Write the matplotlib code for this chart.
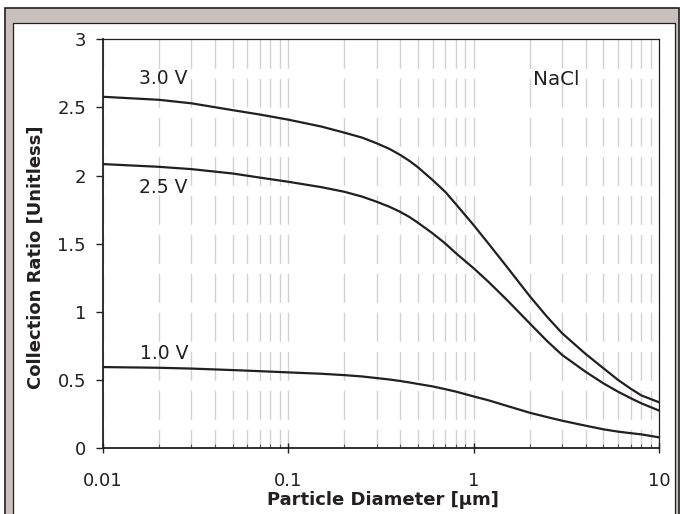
import matplotlib
matplotlib.use("Agg")
import matplotlib.pyplot as plt
from matplotlib.patches import Rectangle
from matplotlib.ticker import LogLocator, NullFormatter

plt.rcParams['font.family'] = ['DejaVu Sans']
plt.rcParams['lines.scale_dashes'] = False

# ---- data ----
diameter = [0.01, 0.02, 0.03, 0.05, 0.07, 0.1, 0.15, 0.2, 0.25, 0.3, 0.35, 0.4, 0.45,
            0.5, 0.6, 0.7, 0.8, 1.0, 1.2, 1.5, 2, 2.5, 3, 4, 5, 6, 7, 8, 10]
ratio_30V = [2.578, 2.556, 2.530, 2.480, 2.448, 2.410, 2.360, 2.315, 2.278, 2.236,
             2.196, 2.152, 2.107, 2.060, 1.966, 1.881, 1.790, 1.634, 1.500, 1.333,
             1.115, 0.958, 0.841, 0.691, 0.585, 0.499, 0.436, 0.386, 0.335]
ratio_25V = [2.084, 2.064, 2.047, 2.015, 1.985, 1.954, 1.915, 1.881, 1.845, 1.807,
             1.771, 1.734, 1.695, 1.653, 1.575, 1.502, 1.430, 1.318, 1.219, 1.090,
             0.915, 0.781, 0.682, 0.560, 0.474, 0.413, 0.366, 0.328, 0.274]
ratio_10V = [0.594, 0.589, 0.583, 0.572, 0.564, 0.555, 0.545, 0.535, 0.525, 0.513,
             0.503, 0.492, 0.481, 0.470, 0.452, 0.432, 0.414, 0.378, 0.350, 0.310,
             0.259, 0.226, 0.200, 0.164, 0.137, 0.120, 0.109, 0.100, 0.078]
series_labels = ["3.0 V", "2.5 V", "1.0 V"]
xticks = [0.01, 0.1, 1, 10]
xticklabels = ["0.01", "0.1", "1", "10"]
yticks = [0, 0.5, 1, 1.5, 2, 2.5, 3]
yticklabels = ["0", "0.5", "1", "1.5", "2", "2.5", "3"]

W, H = 680, 514
fig = plt.figure(figsize=(W / 100, H / 100), dpi=100)
fig.patch.set_facecolor('white')

dark = '#231f20'

def fx(px):
    return px / W

def fy(py):
    return 1 - py / H

# outer gray frame
fig.patches.append(Rectangle((fx(5), fy(530)), fx(678.5) - fx(5), fy(7.5) - fy(530),
                             transform=fig.transFigure, facecolor='#c9c0bd',
                             edgecolor=dark, linewidth=1.2, zorder=-10))
# inner white panel
fig.patches.append(Rectangle((fx(12.5), fy(530)), fx(675) - fx(12.5), fy(23) - fy(530),
                             transform=fig.transFigure, facecolor='white',
                             edgecolor=dark, linewidth=0.9, zorder=-9))

left, right, top, bottom = 103, 659.3, 39.3, 448
ax = fig.add_axes([fx(left), fy(bottom), fx(right) - fx(left), fy(top) - fy(bottom)])
ax.set_zorder(5)
ax.set_facecolor('none')

ax.set_xscale('log')
ax.set_xlim(0.01, 10)
ax.set_ylim(0, 3)

for vals in (ratio_30V, ratio_25V, ratio_10V):
    ax.plot(diameter, vals, color=dark, linewidth=1.6, solid_capstyle='butt',
            solid_joinstyle='round', zorder=3)

# grid: vertical dashed lines at each major/minor decade position
axis_h_px = bottom - top
on_px, off_px = 29.0, 10.0
per = on_px + off_px
offset_px = (on_px - (axis_h_px % per)) % per
pt = 72 / 100
dash = (offset_px * pt, (on_px * pt, off_px * pt))
ax.xaxis.set_minor_locator(LogLocator(base=10, subs=[2, 3, 4, 5, 6, 7, 8, 9], numticks=20))
ax.xaxis.set_minor_formatter(NullFormatter())
ax.grid(True, which='both', axis='x', color='#d2d2d2', linewidth=1.0, linestyle=dash)
ax.grid(False, axis='y')
ax.set_axisbelow(True)

ax.set_xticks(xticks)
ax.set_xticklabels(xticklabels)
ax.set_yticks(yticks)
ax.set_yticklabels(yticklabels)

ax.tick_params(axis='x', which='major', direction='inout', length=6.5, width=1.0,
               color=dark, pad=13.7, labelsize=13, labelcolor=dark, top=False)
ax.tick_params(axis='x', which='minor', direction='in', length=3.2, width=0.8,
               color='#555555', top=False)
ax.tick_params(axis='y', which='major', direction='out', length=5, width=1.0,
               color=dark, pad=7.2, labelsize=13, labelcolor=dark, right=False)

for side in ('left', 'bottom'):
    ax.spines[side].set_color(dark)
    ax.spines[side].set_linewidth(1.3)
for side in ('top', 'right'):
    ax.spines[side].set_color(dark)
    ax.spines[side].set_linewidth(0.9)

ax.set_xlabel("Particle Diameter [µm]", fontsize=13, fontweight='bold', color=dark)
ax.xaxis.label.set_va('top')
ax.xaxis.set_label_coords((383 - left) / (right - left), (bottom - 491.2) / (bottom - top))

ax.set_ylabel("Collection Ratio [Unitless]", fontsize=13, fontweight='bold', color=dark,
              va='center')
ax.yaxis.set_label_coords((36 - left) / (right - left), (bottom - 257.5) / (bottom - top))

# curve labels
ax.text(0.0157, 2.670, series_labels[0], fontsize=13.5, color=dark, ha='left', va='baseline')
ax.text(0.0157, 1.873, series_labels[1], fontsize=13.5, color=dark, ha='left', va='baseline')
ax.text(0.0158, 0.653, series_labels[2], fontsize=13.5, color=dark, ha='left', va='baseline')
ax.text(2.083, 2.663, "NaCl", fontsize=14.3, color=dark, ha='left', va='baseline')

fig.savefig("out.png", dpi=100, facecolor='white')
